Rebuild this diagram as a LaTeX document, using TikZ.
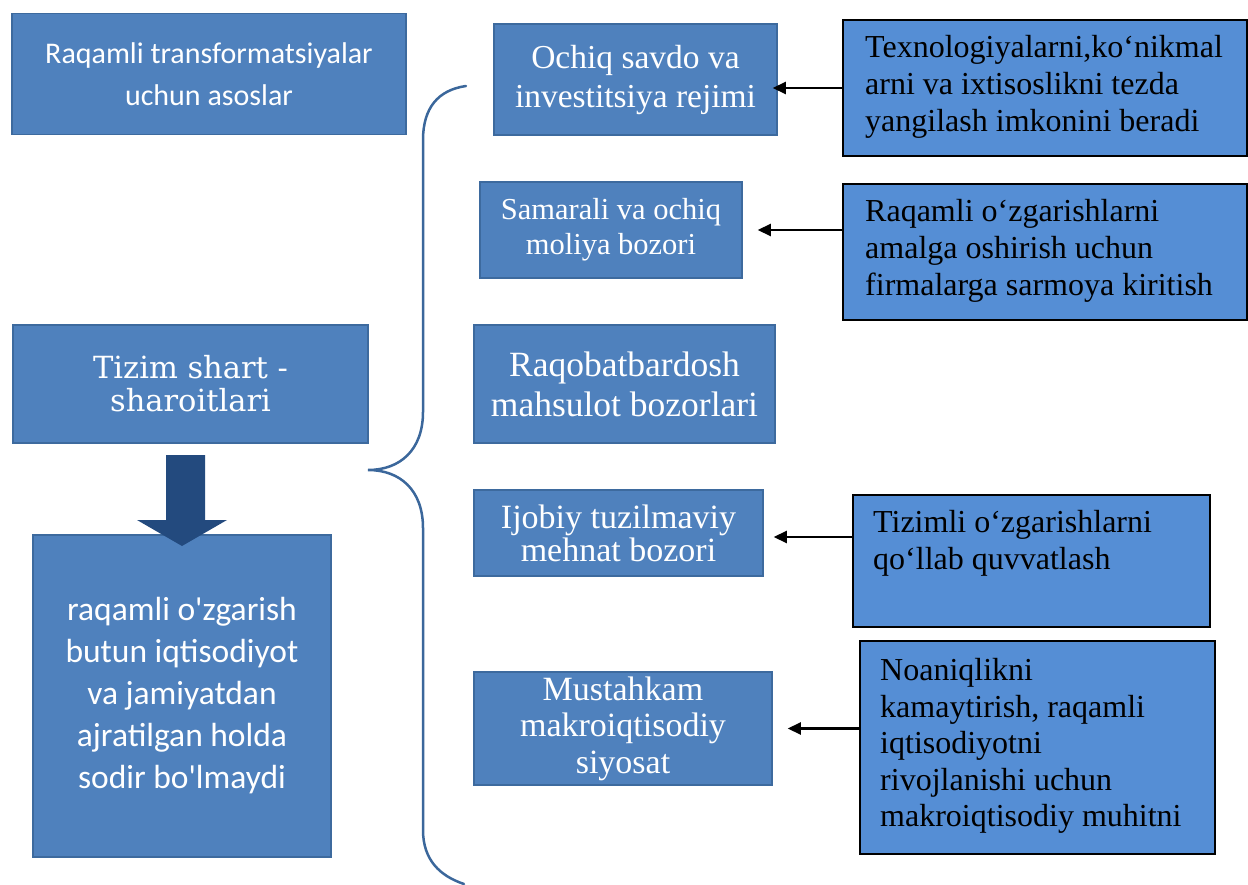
\documentclass[tikz,border=0pt]{standalone}
\usepackage{fontspec}
\setmainfont{Liberation Serif}
\newfontfamily\carl{Carlito}
\newfontfamily\dvs{DejaVu Serif}
\usetikzlibrary{arrows.meta,calc}
\definecolor{pbox}{HTML}{4F81BD}
\definecolor{pborder}{HTML}{3D6A9E}
\definecolor{ebox}{HTML}{558ED5}
\definecolor{barrow}{HTML}{234A7E}
\definecolor{brace}{HTML}{3B679B}
\tikzset{
  pnode/.style={draw=pborder, line width=1.5pt, fill=pbox, text=white, align=center, inner sep=0pt},
  enode/.style={draw=black, line width=1.3pt, fill=ebox, inner sep=0pt},
  etext/.style={align=left, text=black, inner sep=0pt, font=\fontsize{32}{37}\selectfont},
  arr/.style={line width=2.2pt, -{Triangle[length=13pt,width=12pt]}},
}
\begin{document}
\begin{tikzpicture}[x=1pt,y=-1pt]
\useasboundingbox (0,0) rectangle (1248,885);
% left column
\node[pnode, minimum width=394, minimum height=121, font=\carl\fontsize{30}{42}\selectfont] (A) at (209,74) {Raqamli transformatsiyalar\\uchun asoslar};
\node[pnode, minimum width=355, minimum height=118, font=\dvs\fontsize{30.5}{33}\selectfont] (B) at (190.5,384) {Tizim shart -\\sharoitlari};
\node[pnode, minimum width=298, minimum height=322, font=\carl\fontsize{33.5}{42}\selectfont] (C) at (182,696) {raqamli o'zgarish\\butun iqtisodiyot\\va jamiyatdan\\ajratilgan holda\\sodir bo'lmaydi};
% block arrow
\fill[barrow] (166,455) -- (205,455) -- (205,520) -- (227,520) -- (182,546) -- (137,520) -- (166,520) -- cycle;
% brace
\draw[brace, line width=2.5pt, line cap=round] (466,86) .. controls (438,90) and (423,108) .. (423,140)
  -- (423,412) .. controls (423,450) and (400,470) .. (368,470)
  .. controls (400,470) and (423,490) .. (423,528)
  -- (423,830) .. controls (423,860) and (440,876) .. (464,884);
% middle column
\node[pnode, minimum width=283, minimum height=111, font=\fontsize{33.5}{39}\selectfont] (D1) at (635.5,79.5) {Ochiq savdo va\\investitsiya rejimi};
\node[pnode, minimum width=262, minimum height=96, font=\fontsize{30.5}{35}\selectfont] (D2) at (611,230) {Samarali va ochiq\\moliya bozori};
\node[pnode, minimum width=301, minimum height=118, font=\fontsize{35.5}{40}\selectfont] (D3) at (624.5,384) {Raqobatbardosh\\mahsulot bozorlari};
\node[pnode, minimum width=289, minimum height=86, font=\fontsize{34}{33}\selectfont] (D4) at (618.5,533) {Ijobiy tuzilmaviy\\mehnat bozori};
\node[pnode, minimum width=298, minimum height=113, font=\fontsize{34}{36.5}\selectfont] (D5) at (623,728.5) {Mustahkam\\makroiqtisodiy\\siyosat};
% right column
\node[enode, minimum width=404, minimum height=136] (E1) at (1045,88) {};
\node[etext, anchor=west] (T1) at (865,87) {Texnologiyalarni,ko‘nikmal\\arni va ixtisoslikni tezda\\yangilash imkonini beradi};
\node[enode, minimum width=404, minimum height=136] (E2) at (1045,252) {};
\node[etext, anchor=west] (T2) at (865,251) {Raqamli o‘zgarishlarni\\amalga oshirish uchun\\firmalarga sarmoya kiritish};
\node[enode, minimum width=357, minimum height=132] (E3) at (1031.5,561) {};
\node[etext, anchor=west] (T3) at (873,543.5) {Tizimli o‘zgarishlarni\\qo‘llab quvvatlash};
\node[enode, minimum width=355, minimum height=213] (E4) at (1037.5,747.5) {};
\node[etext, anchor=west, font=\fontsize{32}{36.5}\selectfont] (T4) at (880,746) {Noaniqlikni\\kamaytirish, raqamli\\iqtisodiyotni\\rivojlanishi uchun\\makroiqtisodiy muhitni};
% arrows
\draw[arr] (E1.west) -- ([xshift=-5pt]D1.east |- E1.west);
\draw[arr] (E2.west |- D2.east) -- ([xshift=15pt]D2.east);
\draw[arr] ([yshift=-4pt]E3.west |- D4.east) -- ([xshift=10pt,yshift=-4pt]D4.east);
\draw[arr] (E4.west |- D5.east) -- ([xshift=15pt]D5.east);
\end{tikzpicture}
\end{document}
